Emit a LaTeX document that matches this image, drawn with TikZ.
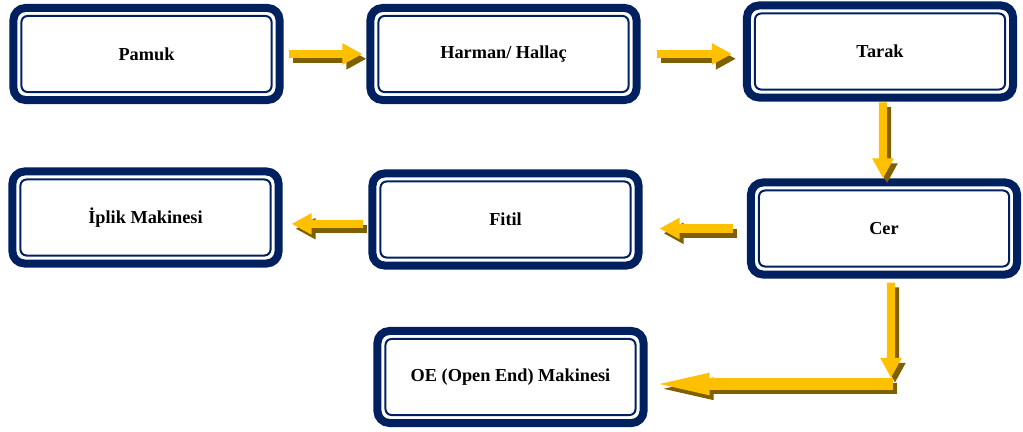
\documentclass[tikz,border=0pt]{standalone}
\usepackage{fontspec}
\setmainfont{Liberation Serif}
\usetikzlibrary{arrows.meta}
\definecolor{navy}{HTML}{002060}
\definecolor{arrowgold}{HTML}{FFC000}
\definecolor{arrowshadow}{HTML}{7F6000}
\tikzset{
  stage/.style={draw=navy, line width=0.2cm, rounded corners=0.3cm, fill=white,
    minimum width=6.65cm, minimum height=2.3cm, font=\fontsize{13}{15}\selectfont\bfseries,
    path picture={\draw[navy, line width=0.05cm, rounded corners=0.15cm]
      ([shift={(0.2cm,-0.2cm)}]path picture bounding box.north west) rectangle
      ([shift={(-0.2cm,0.2cm)}]path picture bounding box.south east);}},
  flow/.style={draw=arrowgold, line width=0.21cm, -{Triangle[width=0.5cm,length=0.5cm]},
    preaction={draw=arrowshadow, line width=0.21cm, transform canvas={shift={(0.1cm,-0.12cm)}}}},
  flowlong/.style={draw=arrowgold, line width=0.28cm, -{Triangle[width=0.46cm,length=1.6cm]},
    preaction={draw=arrowshadow, line width=0.28cm, transform canvas={shift={(0.1cm,-0.12cm)}}}}
}
\begin{document}
\begin{tikzpicture}[x=0.025cm, y=-0.025cm]
  \useasboundingbox (0,0) rectangle (1023,432);
  \node[stage] (pamuk) at (146.5,54) {Pamuk};
  \node[stage] (harman) at (503.5,54) {Harman/ Hallaç};
  \node[stage] (tarak) at (880,51.5) {Tarak};
  \node[stage] (cer) at (884,228.5) {Cer};
  \node[stage] (fitil) at (505.5,219.5) {Fitil};
  \node[stage] (iplik) at (145.5,217.5) {İplik Makinesi};
  \node[stage] (oe) at (510.5,377) {OE (Open End) Makinesi};
  \coordinate (bend) at (891,384);
  \draw[flow, shorten <=0.125cm, shorten >=0.1cm] (pamuk.east) -- (pamuk.east -| harman.west);
  \draw[flow, shorten <=0.4cm, shorten >=0.275cm] (harman.east) -- (harman.east -| tarak.west);
  \draw[flow, shorten <=0.02cm] ([xshift=0.075cm]tarak.south) -- ([xshift=-0.025cm]cer.north);
  \draw[flow, shorten <=0.35cm, shorten >=0.425cm] (cer.west) -- (cer.west -| fitil.east);
  \draw[flow, shorten <=0.125cm, shorten >=0.225cm] ([yshift=-0.11cm]fitil.west) -- ([yshift=-0.11cm]fitil.west -| iplik.east);
  \draw[flow, shorten <=0.1cm, shorten >=0.15cm] ([xshift=0.175cm]cer.south) -- (bend);
  \draw[flowlong, shorten <=-0.05cm, shorten >=-0.05cm] (bend) -- (bend -| oe.east);
\end{tikzpicture}
\end{document}
